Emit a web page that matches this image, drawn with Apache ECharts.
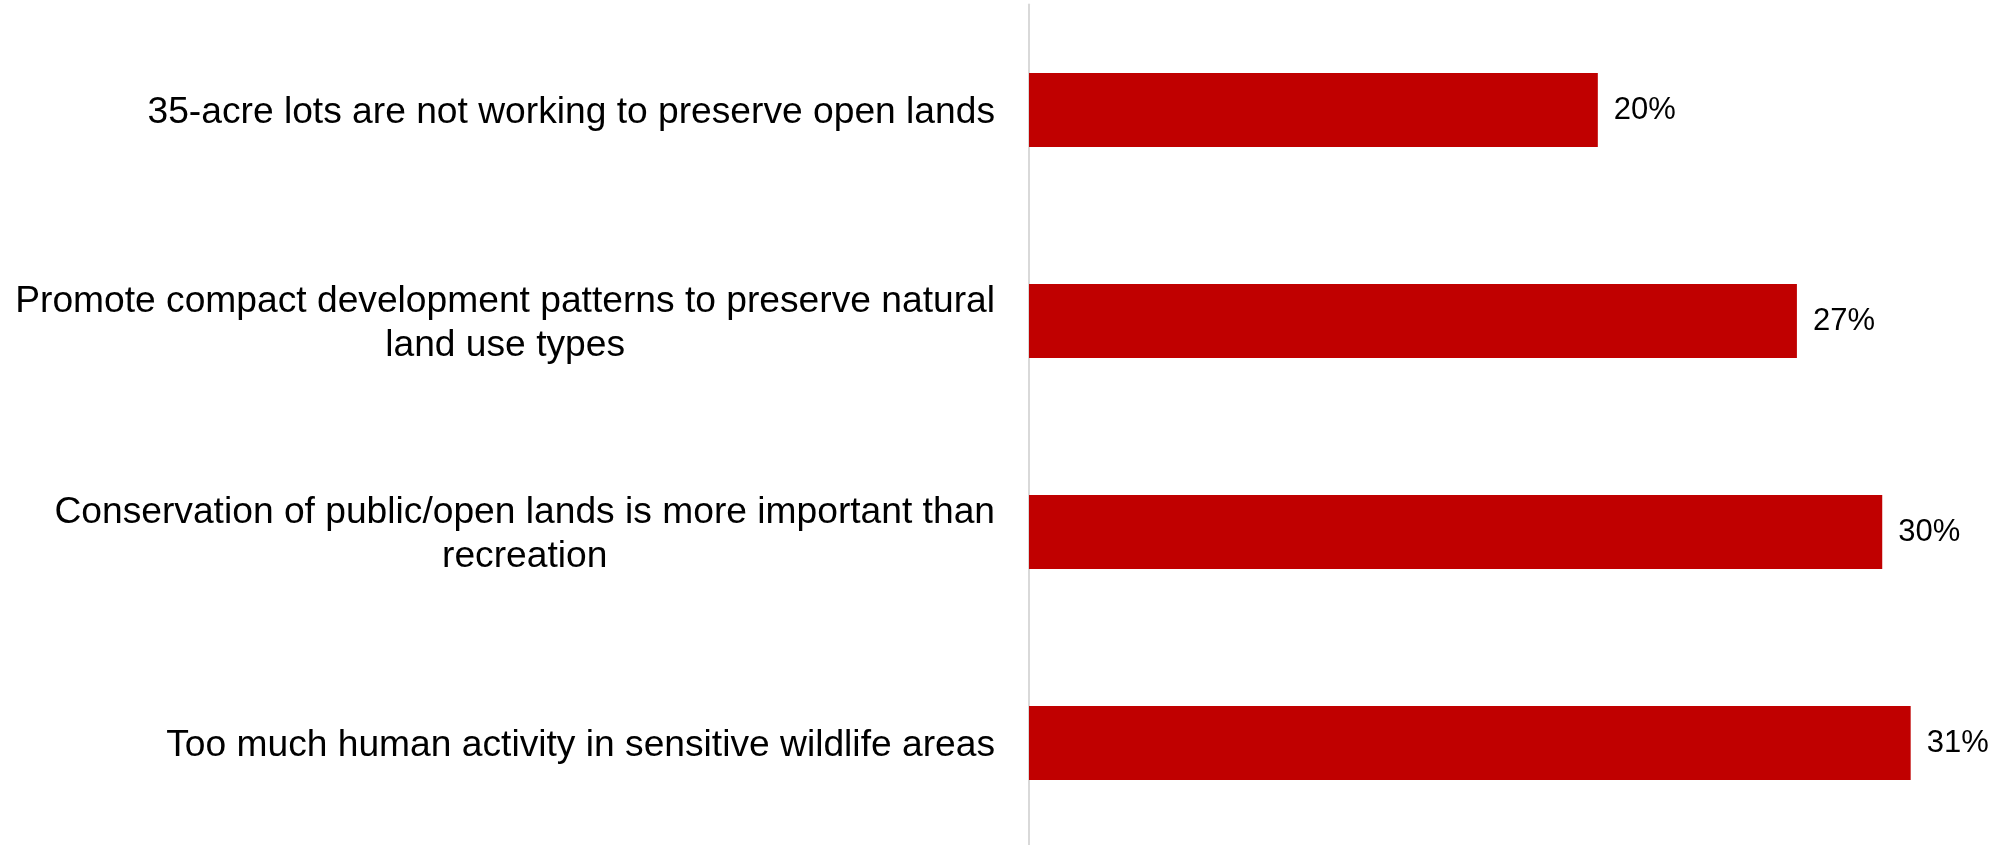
<!DOCTYPE html>
<html>
<head>
<meta charset="utf-8">
<title>Open lands concerns</title>
<script src="https://cdn.jsdelivr.net/npm/echarts@6/dist/echarts.min.js"></script>
<style>
  html, body { margin: 0; padding: 0; background: #ffffff; }
  #chart { width: 2005px; height: 845px; }
</style>
</head>
<body>
<div id="chart"></div>
<script>
// Survey statements, top to bottom
const categories = [
  '35-acre lots are not working to preserve open lands',
  'Promote compact development patterns to preserve natural land use types',
  'Conservation of public/open lands is more important than recreation',
  'Too much human activity in sensitive wildlife areas'
];
// Share of respondents (%)
const shares = [20, 27, 30, 31];

const LABEL_FONT = 'Liberation Sans, Arial, sans-serif';
const LABEL_SIZE = 37.2;
const LABEL_LINE = 44;
const LABEL_MAX_WIDTH = 1000;

// Word-wrap a statement so that each line fits the label column
const measureCtx = document.createElement('canvas').getContext('2d');
measureCtx.font = LABEL_SIZE + 'px ' + LABEL_FONT;
function wrapWords(text, maxWidth) {
  const words = text.split(' ');
  const lines = [];
  let line = '';
  for (const w of words) {
    const test = line ? line + ' ' + w : w;
    if (line && measureCtx.measureText(test).width > maxWidth) {
      lines.push(line);
      line = w;
    } else {
      line = test;
    }
  }
  if (line) lines.push(line);
  return lines;
}

const chart = echarts.init(document.getElementById('chart'), null, { renderer: 'canvas' });

chart.setOption({
  animation: false,
  backgroundColor: '#ffffff',
  grid: { left: 1029, top: 4.5, width: 967, height: 844, outerBoundsMode: 'none', containLabel: false },
  xAxis: {
    type: 'value',
    min: 0,
    max: 34,
    show: false
  },
  yAxis: {
    type: 'category',
    data: categories,
    inverse: true,
    axisLine: { show: true, lineStyle: { color: '#d9d9d9', width: 2 } },
    axisTick: { show: false },
    splitLine: { show: false },
    axisLabel: {
      margin: 34,
      align: 'right',
      padding: [6, 0, 0, 0],
      fontFamily: LABEL_FONT,
      fontSize: LABEL_SIZE,
      lineHeight: LABEL_LINE,
      color: '#000000',
      formatter: (value) => wrapWords(value, LABEL_MAX_WIDTH).map((l) => '{c|' + l + '}').join('\n'),
      rich: {
        c: {
          align: 'center',
          fontFamily: LABEL_FONT,
          fontSize: LABEL_SIZE,
          lineHeight: LABEL_LINE,
          color: '#000000'
        }
      }
    }
  },
  series: [{
    type: 'bar',
    data: shares,
    barWidth: 74,
    itemStyle: { color: '#c00000' },
    label: {
      show: true,
      position: 'right',
      distance: 16,
      padding: [3, 0, 0, 0],
      formatter: (p) => p.value + '%',
      fontFamily: LABEL_FONT,
      fontSize: 31,
      color: '#000000'
    }
  }]
});
</script>
</body>
</html>
